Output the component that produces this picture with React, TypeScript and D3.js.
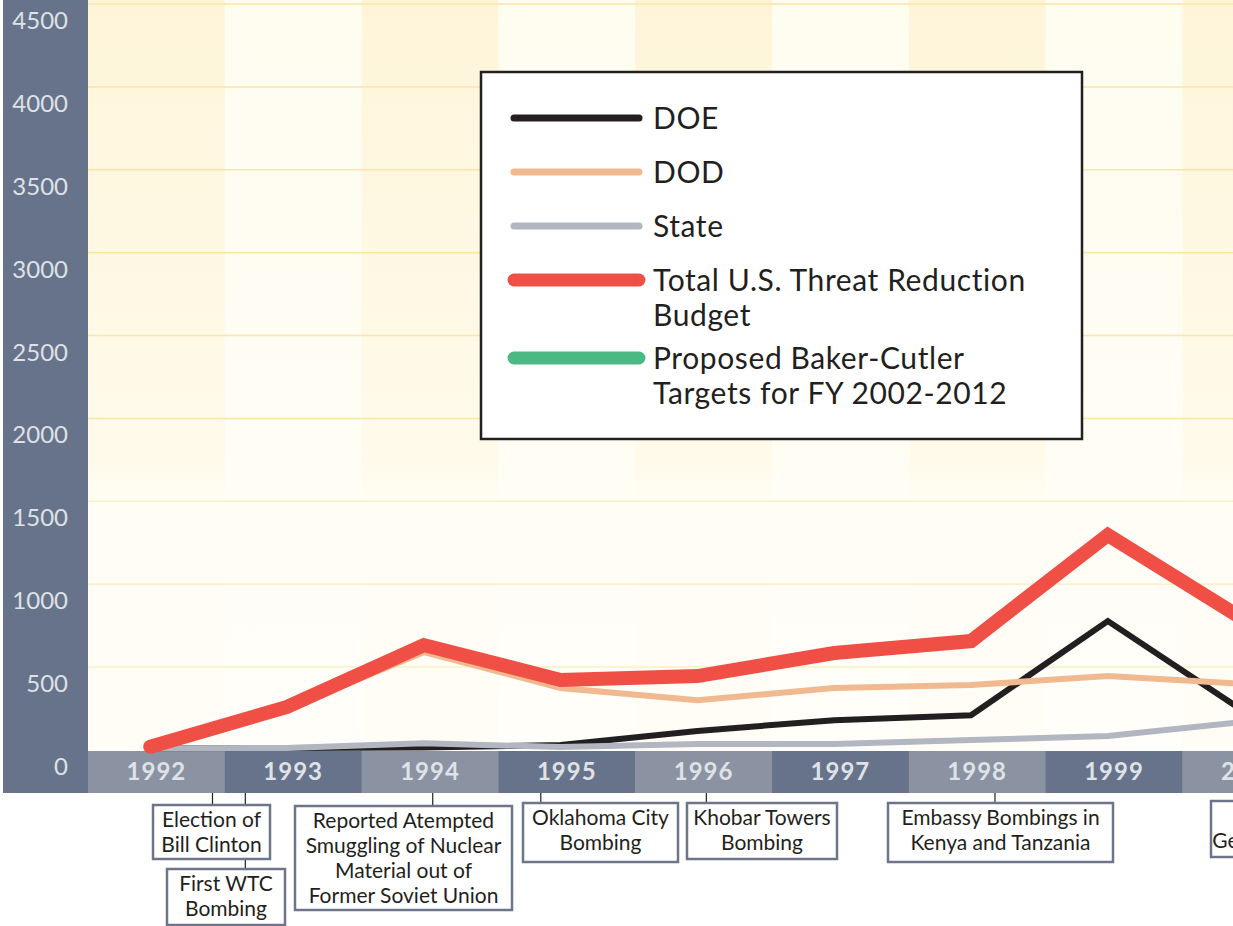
import * as d3 from "d3";

const years = [1992, 1993, 1994, 1995, 1996, 1997, 1998, 1999, 2000];
const doe = [10, 12, 15, 30, 115, 180, 210, 778, 230];
const dod = [0, 250, 590, 374, 300, 374, 392, 446, 398];
const state = [10, 12, 40, 18, 36, 36, 60, 85, 170];
const total = [20, 260, 633, 422, 446, 585, 657, 1297, 784];
const yTicks = [0, 500, 1000, 1500, 2000, 2500, 3000, 3500, 4000, 4500];

const legendNames = [
  ["DOE"],
  ["DOD"],
  ["State"],
  ["Total U.S. Threat Reduction", "Budget"],
  ["Proposed Baker-Cutler", "Targets for FY 2002-2012"],
];
const legendColors = ["#231f20", "#f0b98f", "#b1b6c1", "#ef4f45", "#4cb984"];

const eventLabels = [
  ["Election of", "Bill Clinton"],
  ["First WTC", "Bombing"],
  ["Reported Atempted", "Smuggling of Nuclear", "Material out of", "Former Soviet Union"],
  ["Oklahoma City", "Bombing"],
  ["Khobar Towers", "Bombing"],
  ["Embassy Bombings in", "Kenya and Tanzania"],
  ["Election of", "George W. Bush"],
];
const eventDates = [1992.91, 1993.15, 1994.52, 1995.31, 1996.52, 1998.63, 2000.85];

// box layout for the event notes (left, top, width, height)
const eventBoxes = [
  [153, 805, 117, 54],
  [167, 869, 118, 56],
  [295, 806, 217, 104],
  [523, 803, 155, 59],
  [687, 803, 150, 56],
  [888, 803, 225, 59],
  [1211, 801, 152, 56],
];

const W = 1233;
const H = 926;
const font = "Lato, 'Open Sans', sans-serif";

export default function App() {
  const xt = d3.scaleLinear().domain([1992, 2001]).range([88, 88 + 9 * 136.8]);
  const y = d3.scaleLinear().domain([0, 4500]).range([750, 4]);
  const px = (yr: number) => xt(yr + 0.455);

  const series = [doe, dod, state, total];
  const widths = [6, 6, 6, 14];
  const line = d3
    .line<number>()
    .x((_, i) => px(years[i]))
    .y((v) => y(v));

  return (
    <svg width={W} height={H} style={{ position: "absolute", left: 0, top: 0, background: "#fff" }}>
      <defs>
        <linearGradient id="colA" x1="0" y1="0" x2="0" y2="1">
          <stop offset="0" stopColor="#fef5d9" />
          <stop offset="0.62" stopColor="#fffaeb" />
          <stop offset="0.67" stopColor="#fffdf5" />
          <stop offset="1" stopColor="#fffdf6" />
        </linearGradient>
        <linearGradient id="colB" x1="0" y1="0" x2="0" y2="1">
          <stop offset="0" stopColor="#fffcf0" />
          <stop offset="0.62" stopColor="#fffdf4" />
          <stop offset="1" stopColor="#fffefa" />
        </linearGradient>
      </defs>

      {/* plot background columns */}
      {years.map((yr, i) => (
        <rect
          key={"bg" + yr}
          x={xt(yr)}
          y={0}
          width={xt(yr + 1) - xt(yr) + 0.5}
          height={751}
          fill={i % 2 === 0 ? "url(#colA)" : "url(#colB)"}
        />
      ))}

      {/* gridlines */}
      {yTicks.slice(1).map((t) => (
        <line key={"g" + t} x1={88} x2={W} y1={y(t)} y2={y(t)} stroke={t >= 2000 ? "#fbe6a4" : "#fcefc6"} strokeWidth={1.5} />
      ))}

      {/* y axis panel */}
      <rect x={3} y={0} width={85} height={793} fill="#67738a" />
      {yTicks.map((t) => (
        <text
          key={"yt" + t}
          x={68}
          y={y(t) + 25}
          textAnchor="end"
          fill="#dfe2e7"
          fontFamily={font}
          fontSize={24}
        >
          {t}
        </text>
      ))}

      {/* x axis bands */}
      {years.map((yr, i) => (
        <g key={"xb" + yr}>
          <rect
            x={xt(yr)}
            y={751}
            width={xt(yr + 1) - xt(yr) + 0.5}
            height={42}
            fill={i % 2 === 0 ? "#8b93a3" : "#67738a"}
          />
          <text
            x={(xt(yr) + xt(yr + 1)) / 2}
            y={780}
            textAnchor="middle"
            fill="#dfe2e7"
            fontFamily={font}
            fontWeight={700}
            fontSize={24}
            letterSpacing={1}
          >
            {yr}
          </text>
        </g>
      ))}

      {/* data lines */}
      {series.map((s, k) => (
        <path
          key={"s" + k}
          d={line(s) || ""}
          fill="none"
          stroke={legendColors[k]}
          strokeWidth={widths[k]}
          strokeLinejoin="miter"
          strokeLinecap={k === 3 ? "round" : "butt"}
        />
      ))}

      {/* legend */}
      <rect x={481} y={72} width={601} height={367} fill="#fff" stroke="#231f20" strokeWidth={2.5} />
      {legendNames.map((lines, i) => {
        const ly = [118, 172, 226, 280, 358][i];
        return (
          <g key={"lg" + i}>
            <line
              x1={514}
              x2={639}
              y1={ly}
              y2={ly}
              stroke={legendColors[i]}
              strokeWidth={i >= 3 ? 13 : 7}
              strokeLinecap="round"
            />
            {lines.map((l, j) => (
              <text
                key={j}
                x={653}
                y={ly + 11 + j * 35}
                fill="#231f20"
                fontFamily={font}
                fontSize={30}
                letterSpacing={0.6}
              >
                {l}
              </text>
            ))}
          </g>
        );
      })}

      {/* event notes */}
      {eventLabels.map((lines, i) => {
        const [, by] = eventBoxes[i];
        const cx = xt(eventDates[i]);
        return (
          <line key={"ev" + i} x1={cx} x2={cx} y1={793} y2={by} stroke="#231f20" strokeWidth={1.2} />
        );
      })}
      {eventLabels.map((lines, i) => {
        const [bx, by, bw, bh] = eventBoxes[i];
        return (
          <g key={"eb" + i}>
            <rect x={bx} y={by} width={bw} height={bh} fill="#fff" stroke="#6b768a" strokeWidth={2.5} />
            {lines.map((l, j) => (
              <text
                key={j}
                x={bx + bw / 2}
                y={by + 22 + j * 25}
                textAnchor="middle"
                fill="#231f20"
                fontFamily={font}
                fontSize={21}
              >
                {l}
              </text>
            ))}
          </g>
        );
      })}
    </svg>
  );
}
